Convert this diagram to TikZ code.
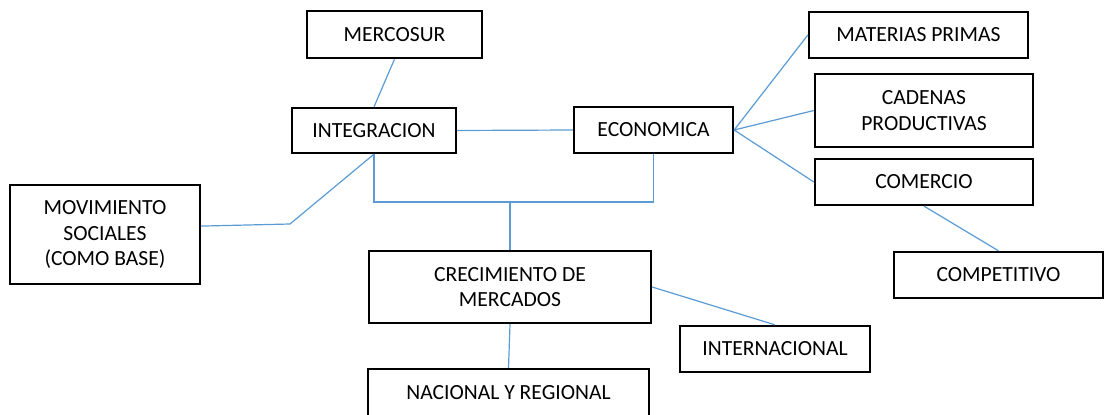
\documentclass[tikz,border=0pt]{standalone}
\usepackage{fontspec}
\setmainfont{Carlito}
\definecolor{linkblue}{HTML}{5B9BD5}

\begin{document}
\begin{tikzpicture}[x=1pt, y=-1pt, line width=2.3pt,
    box/.style={draw, inner sep=0pt, align=center, font=\fontsize{21.6}{25.8}\selectfont},
    link/.style={draw=linkblue, line width=1.2pt}]
  \useasboundingbox (0,0) rectangle (1106,415);
  \path node (Me) at (394.5, 34.5) [box, minimum width=175, minimum height=47] {MERCOSUR}
        node (In) at (374,  130.5) [box, minimum width=164, minimum height=45] {INTEGRACION}
        node (Ec) at (653.5,130)   [box, minimum width=159, minimum height=46] {ECONOMICA}
        node (Mp) at (918.5, 35)   [box, minimum width=219, minimum height=46] {MATERIAS PRIMAS}
        node (Cp) at (924,  110.5) [box, minimum width=218, minimum height=73] {CADENAS\\PRODUCTIVAS}
        node (Co) at (924,  182)   [box, minimum width=218, minimum height=46] {COMERCIO}
        node (Ct) at (998.5,275)   [box, minimum width=209, minimum height=46] {COMPETITIVO}
        node (Ms) at (105,  234.5) [box, minimum width=190, minimum height=99] {MOVIMIENTO\\SOCIALES\\(COMO BASE)}
        node (Cm) at (510,  287)   [box, minimum width=282, minimum height=72] {CRECIMIENTO DE\\MERCADOS}
        node (It) at (775,  349)   [box, minimum width=190, minimum height=46] {INTERNACIONAL}
        node (Nr) at (508.5,393)   [box, minimum width=281, minimum height=48] {NACIONAL Y REGIONAL};
  \coordinate (split) at (510,202);
  \coordinate (bend)  at (290,224);
  \path[link] (Me.south) -- (In.north) (In.east) -- (Ec.west)
              (Ec.east) -- (Mp.west) (Ec.east) -- (Cp.west) (Ec.east) -- (Co.west)
              (Co.south) -- (Ct.north);
  \path[link] (In.south) |- (split) -| (Ec.south) (split) -- (Cm.north);
  \path[link] (Ms.5) -- (bend) -- (In.south);
  \path[link] (Cm.east) -- (It.north) (Cm.south) -- (Nr.north);
\end{tikzpicture}
\end{document}
